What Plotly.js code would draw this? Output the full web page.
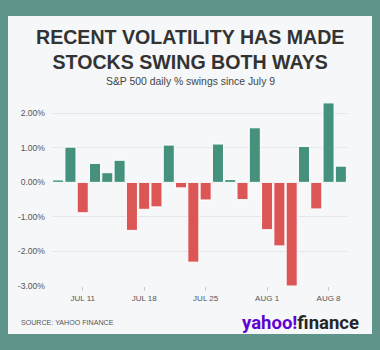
<!DOCTYPE html>
<html>
<head>
<meta charset="utf-8">
<script src="https://cdn.plot.ly/plotly-3.0.1.min.js"></script>
<style>
  html, body { margin: 0; padding: 0; background: #5e9489; width: 380px; height: 350px; overflow: hidden; }
  #chart { position: absolute; left: 8px; top: 16px; width: 364px; height: 318px; }
</style>
</head>
<body>
<div id="chart"></div>
<script>
const dates = ["Jul 9","Jul 10","Jul 11","Jul 12","Jul 15","Jul 16","Jul 17","Jul 18","Jul 19",
  "Jul 22","Jul 23","Jul 24","Jul 25","Jul 26","Jul 29","Jul 30","Jul 31",
  "Aug 1","Aug 2","Aug 5","Aug 6","Aug 7","Aug 8","Aug 9"];
const swings = [0.07, 1.02, -0.88, 0.55, 0.28, 0.64, -1.39, -0.78, -0.71,
  1.08, -0.16, -2.31, -0.51, 1.11, 0.08, -0.50, 1.58,
  -1.37, -1.84, -3.00, 1.04, -0.77, 2.30, 0.47];
const tickDates = ["Jul 11", "Jul 18", "Jul 25", "Aug 1", "Aug 8"];
const tickLabels = ["JUL 11", "JUL 18", "JUL 25", "AUG 1", "AUG 8"];
const yTicks = [-3, -2, -1, 0, 1, 2];
const yTickLabels = ["-3.00%", "-2.00%", "-1.00%", "0.00%", "1.00%", "2.00%"];

const green = "#45917d", red = "#dc5656";
const sans = "Liberation Sans, Arial, sans-serif";

const trace = {
  type: "bar",
  x: dates,
  y: swings,
  marker: {
    color: swings.map(v => v >= 0 ? green : red),
    line: { color: "#ffffff", width: 1 }
  },
  hoverinfo: "x+y"
};

const layout = {
  width: 364, height: 318,
  margin: { l: 44, r: 25, t: 80, b: 48 },
  paper_bgcolor: "#f5f7f9",
  plot_bgcolor: "#f5f7f9",
  bargap: 0.1,
  showlegend: false,
  font: { family: sans, color: "#555" },
  xaxis: {
    type: "category",
    tickmode: "array",
    tickvals: tickDates,
    ticktext: tickLabels,
    ticks: "outside", ticklen: 4, tickcolor: "#ccc",
    showgrid: false, showline: false, zeroline: false,
    tickfont: { size: 8, color: "#555", family: sans }
  },
  yaxis: {
    range: [-3.0, 2.5],
    tickmode: "array",
    tickvals: yTicks,
    ticktext: yTickLabels,
    showgrid: true, gridcolor: "#e3e6ea", gridwidth: 1,
    zeroline: false, showline: false,
    ticks: "", tickfont: { size: 8.6, color: "#555", family: sans },
    ticklabelstandoff: 6
  },
  annotations: [
    { xref: "paper", yref: "paper", x: 0.468, y: 1, xanchor: "center", yanchor: "bottom", yshift: 21,
      text: "<b>RECENT VOLATILITY HAS MADE<br>STOCKS SWING BOTH WAYS</b>", showarrow: false,
      font: { size: 19.6, color: "#333", family: sans }, align: "center" },
    { xref: "paper", yref: "paper", x: 0.468, y: 1, xanchor: "center", yanchor: "bottom", yshift: 7,
      text: "S&P 500 daily % swings since July 9", showarrow: false,
      font: { size: 10.4, color: "#444", family: sans } },
    { xref: "paper", yref: "paper", x: 0, y: 0, xanchor: "left", yanchor: "top", xshift: -33, yshift: -31,
      text: "SOURCE: YAHOO FINANCE", showarrow: false,
      font: { size: 7.1, color: "#555", family: sans } },
    { xref: "paper", yref: "paper", x: 1, y: 0, xanchor: "right", yanchor: "top", xshift: 14, yshift: -24,
      text: "<b><span style='color:#6001d2'>yahoo!</span><span style='color:#262626'>finance</span></b>", showarrow: false,
      font: { size: 18.5, family: "Roboto, Arial, sans-serif" } }
  ]
};

Plotly.newPlot("chart", [trace], layout, { displayModeBar: false, staticPlot: true });
</script>
</body>
</html>
